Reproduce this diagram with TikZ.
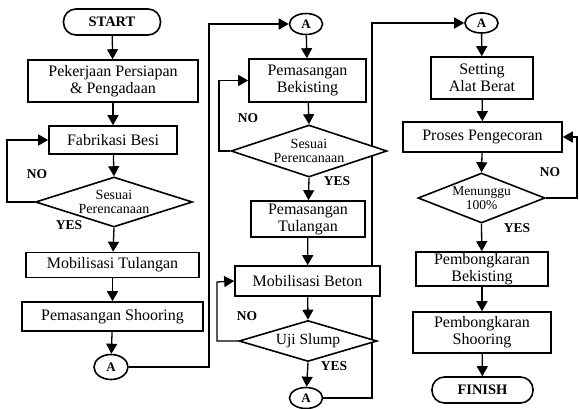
\documentclass[tikz,border=0pt]{standalone}
\usepackage{fontspec}
\setmainfont{Liberation Serif}
\usetikzlibrary{shapes.geometric,arrows.meta,backgrounds}
\begin{document}
\begin{tikzpicture}[x=1pt,y=-1pt,
  boxnode/.style={draw,rectangle,line width=1.6pt,fill=white,inner sep=0pt,align=center,
    font=\fontsize{16}{17}\selectfont},
  termnode/.style={draw,rectangle,rounded corners=12.5pt,line width=1.6pt,fill=white,inner sep=0pt,
    minimum height=26pt,font=\fontsize{14.5}{15}\selectfont\bfseries},
  dianode/.style={draw,diamond,line width=1.6pt,fill=white,inner sep=0pt},
  dialabel/.style={align=center,font=\fontsize{14}{13.5}\selectfont},
  connode/.style={draw,ellipse,line width=1.6pt,fill=white,inner sep=0pt,
    font=\fontsize{13}{13}\selectfont\bfseries},
  lbl/.style={font=\fontsize{13.5}{14}\selectfont\bfseries,inner sep=0pt},
  arr/.style={line width=1.3pt,-{Triangle[length=10pt,width=11pt]}},
  ln/.style={line width=1.3pt}]
\useasboundingbox (0,0) rectangle (579,408);

% column 1
\node[termnode,minimum width=97pt] (start) at (112,22) {START};
\node[boxnode,minimum width=170pt,minimum height=42pt] (b1) at (113,81) {Pekerjaan Persiapan\\\& Pengadaan};
\node[boxnode,minimum width=128pt,minimum height=28pt] (b2) at (113,140) {Fabrikasi Besi};
\node[dianode,minimum width=157pt,minimum height=50pt,
  label={[dialabel]center:Sesuai\\Perencanaan}] (d1) at (114,202) {};
\node[boxnode,minimum width=173pt,minimum height=25pt] (b3) at (112.5,265) {Mobilisasi Tulangan};
\node[boxnode,minimum width=181pt,minimum height=29pt] (b4) at (112.5,316.5) {Pemasangan Shooring};
\node[connode,minimum width=34pt,minimum height=25pt] (a1) at (111,367) {A};

% column 2
\node[connode,minimum width=33pt,minimum height=21pt] (a2) at (306,24) {A};
\node[boxnode,minimum width=117pt,minimum height=43pt] (b5) at (307.5,80.5) {Pemasangan\\Bekisting};
\node[dianode,minimum width=156pt,minimum height=52pt,
  label={[dialabel]center:Sesuai\\Perencanaan}] (d2) at (309,151) {};
\node[boxnode,minimum width=114pt,minimum height=36pt] (b6) at (308,219) {Pemasangan\\Tulangan};
\node[boxnode,minimum width=145pt,minimum height=30pt] (b7) at (307.5,281) {Mobilisasi Beton};
\node[dianode,minimum width=138pt,minimum height=41pt,
  label={[dialabel,font=\fontsize{15.5}{15}\selectfont]center:Uji Slump}] (d3) at (308,341) {};
\node[connode,minimum width=33pt,minimum height=21pt] (a3) at (306,398) {A};

% column 3
\node[connode,minimum width=33pt,minimum height=20pt] (a4) at (481.5,23) {A};
\node[boxnode,minimum width=102pt,minimum height=42pt] (b8) at (482,78) {Setting\\Alat Berat};
\node[boxnode,minimum width=159pt,minimum height=30pt] (b9) at (482.5,137) {Proses Pengecoran};
\node[dianode,minimum width=127pt,minimum height=50pt,
  label={[dialabel,font=\fontsize{13.5}{13.5}\selectfont]center:Menunggu\\100\%}] (d4) at (481.5,198) {};
\node[boxnode,minimum width=132pt,minimum height=34pt] (b10) at (482,269) {Pembongkaran\\Bekisting};
\node[boxnode,minimum width=138pt,minimum height=41pt] (b11) at (482,332.5) {Pembongkaran\\Shooring};
\node[termnode,minimum width=101pt] (finish) at (482.5,390) {FINISH};

% labels
\node[lbl] (no1) at (37,174) {NO};
\node[lbl] (yes1) at (69,225) {YES};
\node[lbl] (no2) at (248,118) {NO};
\node[lbl] (yes2) at (337,181) {YES};
\node[lbl] (no3) at (247,316) {NO};
\node[lbl] (yes3) at (334,366) {YES};
\node[lbl] (no4) at (550,172) {NO};
\node[lbl] (yes4) at (517,228) {YES};

% corner coordinates
\coordinate (l1) at (7,140);
\coordinate (c1) at (209,24);
\coordinate (l2) at (219,80.5);
\coordinate (l3) at (217,282);
\coordinate (c2) at (372,23);
\coordinate (l4) at (577,137);

\begin{pgfonlayer}{background}
\draw[arr] (start) -- (b1);
\draw[arr] (b1) -- (b2);
\draw[arr] (b2) -- (d1.north);
\draw[arr] (d1.south) -- (b3);
\draw[arr] (b3) -- (b4);
\draw[arr] (b4) -- (a1);
\draw[arr] (d1.west) -| (l1) -- (b2.west);
\draw[arr] (a1.east) -| (c1) -- (a2.west);

\draw[arr] (a2) -- (b5);
\draw[arr] (b5) -- (d2.north);
\draw[arr] (d2.south) -- (b6);
\draw[arr] (b6) -- (b7);
\draw[arr] (b7) -- (d3.north);
\draw[arr] (d3.south) -- (a3);
\draw[arr] (d2.west) -| (l2) -- (b5.west);
\draw[arr] (d3.west) -| (l3) -- (b7.west);
\draw[arr] (a3.east) -| (c2) -- (a4.west);

\draw[arr] (a4) -- (b8);
\draw[arr] (b8) -- (b9);
\draw[arr] (b9) -- (d4.north);
\draw[arr] (d4.south) -- (b10);
\draw[arr] (b10) -- (b11);
\draw[arr] (b11) -- (finish);
\draw[arr] (d4.east) -| (l4) -- (b9.east);
\end{pgfonlayer}
\end{tikzpicture}
\end{document}
